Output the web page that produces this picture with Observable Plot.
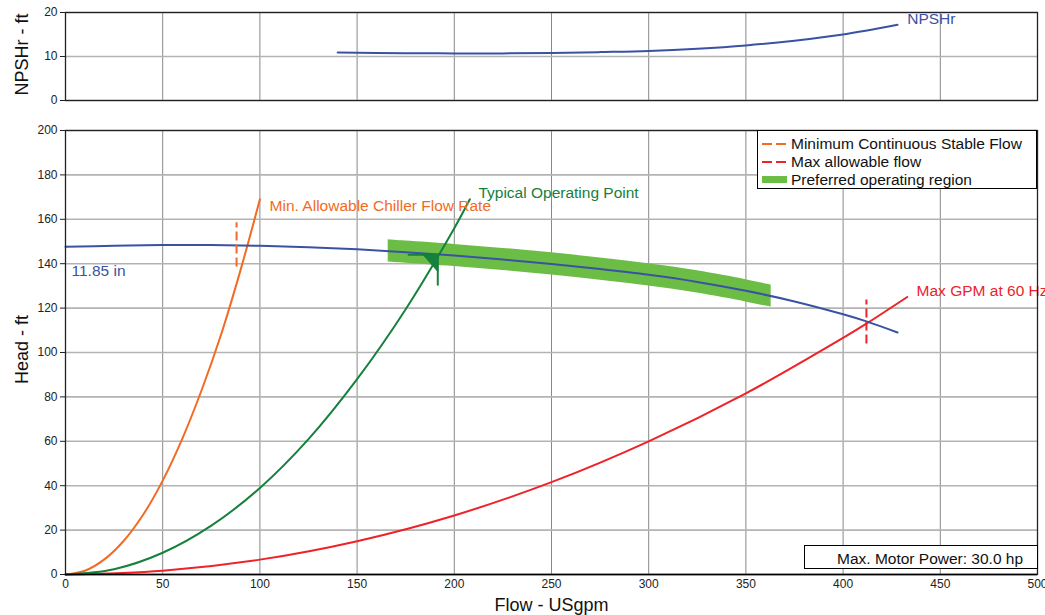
<!DOCTYPE html>
<html>
<head>
<meta charset="utf-8">
<script src="https://cdn.jsdelivr.net/npm/d3@7"></script>
<script src="https://cdn.jsdelivr.net/npm/@observablehq/plot@0.6"></script>
<style>
  body { margin: 0; background: white; font-family: "Liberation Sans", Arial, sans-serif; }
  #wrap { position: relative; width: 1045px; height: 615px; overflow: hidden; }
  #wrap svg { display: block; }
  .legend { position: absolute; left: 757px; top: 130px; width: 278px; height: 57px; border: 1px solid #000; background: #fff; font-size: 15.5px; color: #111; }
  .legend .row { position: absolute; left: 4px; height: 18px; display: flex; align-items: center; }
  .legend .row span { margin-left: 4px; white-space: nowrap; }
  .motor { position: absolute; left: 804px; top: 545px; width: 232px; height: 22px; border: 1px solid #000; background: #fff; font-size: 15.5px; color: #111; line-height: 22px; white-space: nowrap; }
  .motor span { position: absolute; left: 32px; top: 2px; }
</style>
</head>
<body>
<div id="wrap">
  <div id="topPanel"></div>
  <div id="bottomPanel"></div>
  <div class="legend">
    <div class="row" style="top:4px"><svg width="25" height="4"><line x1="0" x2="25" y1="2" y2="2" stroke="#f26b24" stroke-width="2" stroke-dasharray="10,4"/></svg><span>Minimum Continuous Stable Flow</span></div>
    <div class="row" style="top:22px"><svg width="25" height="4"><line x1="0" x2="25" y1="2" y2="2" stroke="#ee2229" stroke-width="2" stroke-dasharray="10,4"/></svg><span>Max allowable flow</span></div>
    <div class="row" style="top:40px"><svg width="25" height="8"><rect x="0" y="0" width="25" height="7" fill="#6cbd45"/></svg><span>Preferred operating region</span></div>
  </div>
  <div class="motor"><span>Max. Motor Power: 30.0 hp</span></div>
</div>
<script>
// ---- Data ----
const xTicks = [0, 50, 100, 150, 200, 250, 300, 350, 400, 450, 500];
const headTicks = [0, 20, 40, 60, 80, 100, 120, 140, 160, 180, 200];
const npshTicks = [0, 10, 20];

// Pump curve 11.85 in impeller
const pumpFlow = [0, 25, 50, 75, 100, 125, 150, 175, 200, 225, 250, 275, 300, 325, 350, 375, 400, 412, 428];
const pumpHead = [147.6, 148.1, 148.4, 148.4, 148.1, 147.4, 146.5, 145.2, 143.7, 141.9, 139.9, 137.6, 135, 131.8, 127.8, 123, 117.2, 114, 109];

// NPSHr curve
const npshFlow = [140, 175, 200, 225, 250, 275, 300, 325, 350, 375, 400, 428];
const npshVal  = [10.9, 10.75, 10.7, 10.7, 10.8, 11.0, 11.25, 11.75, 12.5, 13.6, 15.0, 17.2];

// System curves
const minSysFlow = [0, 10, 20, 30, 40, 50, 60, 70, 80, 90, 100];
const minSysHead = [0, 1.7, 6.8, 15.2, 27, 42.3, 61, 83, 108, 137, 169];
const typSysFlow = [0, 25, 50, 75, 100, 125, 150, 175, 200, 208];
const typSysHead = [0, 2.4, 9.8, 22, 39, 61, 88, 119.5, 156, 169];
const maxSysFlow = [0, 50, 100, 150, 200, 250, 300, 350, 400, 412, 433];
const maxSysHead = [0, 1.7, 6.7, 15, 26.6, 41.6, 60, 81.6, 106.6, 113, 125];

// Preferred operating region (band around pump curve)
const bandFlow = [166, 175, 200, 225, 250, 275, 300, 325, 350, 363];
const bandLow  = [140.8, 140.2, 138.7, 136.9, 134.9, 132.6, 130, 126.8, 122.8, 120.4];
const bandHigh = [150.8, 150.2, 148.7, 146.9, 144.9, 142.6, 140, 136.8, 132.8, 130.4];

// Min continuous stable flow & max allowable flow markers
const minStable = {flow: 88, low: 138.5, high: 158.5};
const maxAllow  = {flow: 412, low: 103.8, high: 123.6};

// Typical operating point marker
const opHorizFlow = [176.5, 191.5];
const opHorizHead = [144, 144];
const opVertFlow = [191.5, 191.5];
const opVertHead = [144, 130.5];
const opTriFlow = [184, 191.5, 191.5, 184];
const opTriHead = [144, 144, 136.5, 144];

// Labels
const headLabels = [
  {text: "Min. Allowable Chiller Flow Rate", flow: 105, head: 165.8, color: "#f26b24"},
  {text: "Typical Operating Point", flow: 212.4, head: 172, color: "#16803d"},
  {text: "Max GPM at 60 Hz", flow: 437.8, head: 127.8, color: "#ee2229"},
  {text: "11.85 in", flow: 3.1, head: 136.8, color: "#3a52a4"}
];
const npshLabels = [{text: "NPSHr", flow: 433, val: 18.5, color: "#3a52a4"}];

// ---- Helpers ----
const zip = (xs, ys) => xs.map((x, i) => ({x, y: ys[i]}));
const blue = "#3a52a4", orange = "#f26b24", red = "#ee2229", green = "#16803d", bandGreen = "#6cbd45";
const chartStyle = {fontFamily: '"Liberation Sans", Arial, sans-serif', fontSize: "12px", color: "#222", background: "white", overflow: "visible"};

// ---- Top panel: NPSHr ----
const topChart = Plot.plot({
  width: 1045, height: 118,
  marginLeft: 65, marginRight: 8, marginTop: 12, marginBottom: 18,
  style: chartStyle,
  x: {domain: [0, 500], axis: null},
  y: {domain: [0, 20], axis: null},
  marks: [
    Plot.gridX(xTicks, {stroke: "#888", strokeOpacity: 1, strokeWidth: 1}),
    Plot.gridY(npshTicks, {stroke: "#b3b3b3", strokeOpacity: 1, strokeWidth: 1.6}),
    Plot.line(zip(npshFlow, npshVal), {x: "x", y: "y", stroke: blue, strokeWidth: 2, curve: "catmull-rom"}),
    Plot.text(npshLabels, {x: "flow", y: "val", text: "text", fill: "color", textAnchor: "start", fontSize: 15.5}),
    Plot.axisY(npshTicks, {tickSize: 5, tickPadding: 3, label: null, stroke: "#222"}),
    Plot.frame({stroke: "#222", strokeWidth: 1.3}),
    Plot.text(["NPSHr - ft"], {frameAnchor: "left", textAnchor: "middle", lineAnchor: "middle", dx: -43, dy: -2, rotate: -90, fontSize: 18, fill: "#111"})
  ]
});
document.getElementById("topPanel").append(topChart);

// ---- Bottom panel: Head ----
const bottomChart = Plot.plot({
  width: 1045, height: 497,
  marginLeft: 65, marginRight: 8, marginTop: 12, marginBottom: 41,
  style: chartStyle,
  x: {domain: [0, 500]},
  y: {domain: [0, 200]},
  marks: [
    Plot.gridX(xTicks, {stroke: "#888", strokeOpacity: 1, strokeWidth: 1}),
    Plot.gridY(headTicks, {stroke: "#b3b3b3", strokeOpacity: 1, strokeWidth: 1.6}),
    Plot.areaY(bandFlow.map((x, i) => ({x, y1: bandLow[i], y2: bandHigh[i]})), {x: "x", y1: "y1", y2: "y2", fill: bandGreen, curve: "catmull-rom"}),
    Plot.line(zip(maxSysFlow, maxSysHead), {x: "x", y: "y", stroke: red, strokeWidth: 2, curve: "catmull-rom"}),
    Plot.line(zip(minSysFlow, minSysHead), {x: "x", y: "y", stroke: orange, strokeWidth: 2, curve: "catmull-rom"}),
    Plot.line(zip(typSysFlow, typSysHead), {x: "x", y: "y", stroke: green, strokeWidth: 2, curve: "catmull-rom"}),
    Plot.line(zip(pumpFlow, pumpHead), {x: "x", y: "y", stroke: blue, strokeWidth: 2, curve: "catmull-rom"}),
    Plot.ruleX([minStable], {x: "flow", y1: "low", y2: "high", stroke: orange, strokeWidth: 2, strokeDasharray: "9,4"}),
    Plot.ruleX([maxAllow], {x: "flow", y1: "low", y2: "high", stroke: red, strokeWidth: 2, strokeDasharray: "9,4"}),
    Plot.line(zip(opHorizFlow, opHorizHead), {x: "x", y: "y", stroke: green, strokeWidth: 2}),
    Plot.line(zip(opVertFlow, opVertHead), {x: "x", y: "y", stroke: green, strokeWidth: 2}),
    Plot.line(zip(opTriFlow, opTriHead), {x: "x", y: "y", stroke: green, fill: green, strokeWidth: 1}),
    Plot.text(headLabels, {x: "flow", y: "head", text: "text", fill: "color", textAnchor: "start", fontSize: 15.5}),
    Plot.axisY(headTicks, {tickSize: 5, tickPadding: 3, label: null, stroke: "#222"}),
    Plot.axisX(xTicks, {tickSize: 0, tickPadding: 5, label: null}),
    Plot.frame({stroke: "#222", strokeWidth: 1.3}),
    Plot.ruleY([0], {stroke: "#000", strokeWidth: 1.5}),
    Plot.text(["Head - ft"], {frameAnchor: "left", textAnchor: "middle", lineAnchor: "middle", dx: -43, dy: -3, rotate: -90, fontSize: 18, fill: "#111"}),
    Plot.text(["Flow - USgpm"], {frameAnchor: "bottom", textAnchor: "middle", lineAnchor: "middle", dy: 31, fontSize: 18, fill: "#111"})
  ]
});
document.getElementById("bottomPanel").append(bottomChart);
</script>
</body>
</html>
